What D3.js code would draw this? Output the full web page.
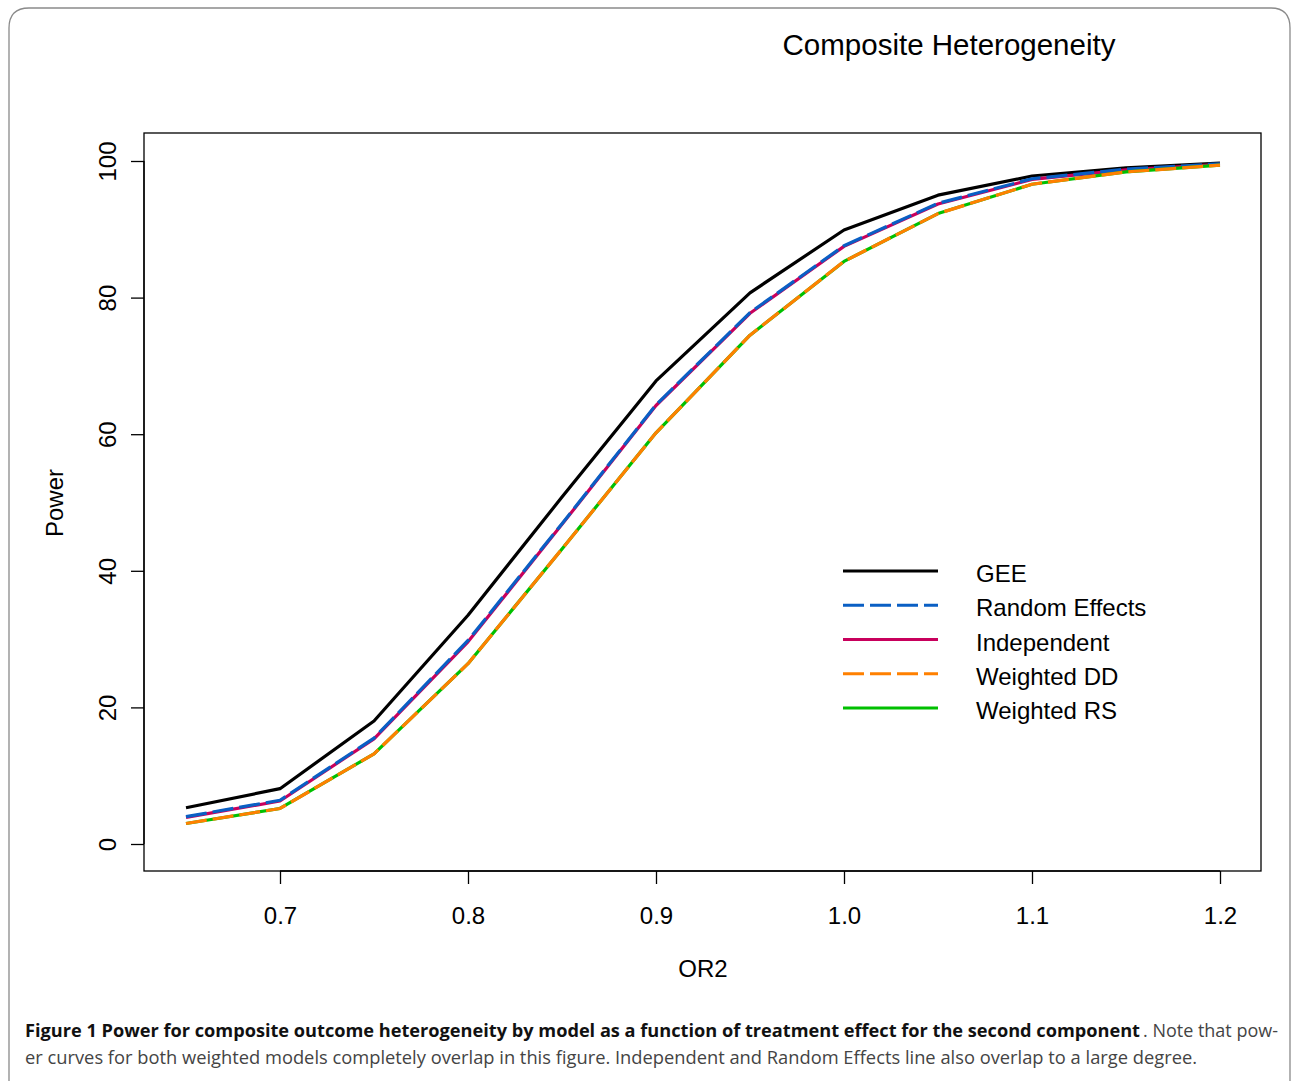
<!DOCTYPE html>
<html><head><meta charset="utf-8">
<script src="https://cdn.jsdelivr.net/npm/d3@7"></script>
<style>body{margin:0;background:#fff}svg{display:block}</style>
</head><body>
<script>
const or2 = [0.65,0.70,0.75,0.80,0.85,0.90,0.95,1.00,1.05,1.10,1.15,1.20];
const gee          = [5.3, 8.1, 18.0, 33.5, 50.8, 67.8, 80.7, 89.9, 95.0, 97.8, 99.0, 99.7];
const randomEff    = [4.0, 6.4, 15.5, 29.8, 46.9, 64.3, 77.8, 87.6, 93.8, 97.4, 98.8, 99.6];
const independent  = [3.9, 6.3, 15.4, 29.6, 46.8, 64.2, 77.7, 87.5, 93.7, 97.3, 98.7, 99.5];
const weightedDD   = [3.0, 5.2, 13.2, 26.4, 43.2, 60.2, 74.5, 85.3, 92.3, 96.6, 98.4, 99.4];
const weightedRS   = [3.0, 5.2, 13.2, 26.4, 43.2, 60.2, 74.5, 85.3, 92.3, 96.6, 98.4, 99.4];
const xTicks = [0.7,0.8,0.9,1.0,1.1,1.2];
const yTicks = [0,20,40,60,80,100];
const seriesNames = ["GEE","Random Effects","Independent","Weighted DD","Weighted RS"];
const seriesColors = ["#000000","#0a5fc4","#c8005c","#ff8000","#00c000"];
const seriesDash = [null,"21,6",null,"21,6",null];
const seriesData = [gee, randomEff, independent, weightedDD, weightedRS];
const drawOrder = [0,2,1,4,3];

const W=1292,H=1081;
const svg=d3.select("body").append("svg").attr("width",W).attr("height",H);
const font="Liberation Sans, Arial, Helvetica, sans-serif";

// frame
svg.append("path")
  .attr("d",`M9,1090 L9,28 Q9,8 29,8 L1271,8 Q1290,8 1290,28 L1290,1090`)
  .attr("fill","none").attr("stroke","#8a8a8a").attr("stroke-width",1.3);

const x=d3.scaleLinear().domain([0.7,1.2]).range([280,1220]);
const y=d3.scaleLinear().domain([0,100]).range([844,161]);
const box={x0:144,x1:1261,y0:133,y1:871};

svg.append("rect").attr("x",box.x0).attr("y",box.y0).attr("width",box.x1-box.x0).attr("height",box.y1-box.y0)
  .attr("fill","none").attr("stroke","#000").attr("stroke-width",1.3);

// axes
const xAxis=d3.axisBottom(x).tickValues(xTicks).tickFormat(d3.format(".1f")).tickSizeOuter(0).tickSize(13).tickPadding(20);
const gx=svg.append("g").attr("transform",`translate(0,${box.y1})`).call(xAxis);
gx.select(".domain").attr("d",`M${x(0.7)},0H${x(1.2)}`).attr("stroke-width",1.3);
gx.selectAll(".tick line").attr("stroke-width",1.3);
gx.selectAll("text").attr("font-family",font).attr("font-size",24).attr("fill","#000").attr("dy","0.35em").attr("y",45);

const yAxis=d3.axisLeft(y).tickValues(yTicks).tickSizeOuter(0).tickSize(13);
const gy=svg.append("g").attr("transform",`translate(${box.x0},0)`).call(yAxis);
gy.select(".domain").attr("d",`M0,${y(0)}V${y(100)}`).attr("stroke-width",1.3);
gy.selectAll(".tick line").attr("stroke-width",1.3);
gy.selectAll("text").attr("font-family",font).attr("font-size",24).attr("fill","#000")
  .attr("x",0).attr("dy",0).attr("text-anchor","middle")
  .attr("transform","translate(-28,0) rotate(-90)");

// lines
const line=d3.line().x((d,i)=>x(or2[i])).y(d=>y(d));
drawOrder.forEach(k=>{
  svg.append("path").datum(seriesData[k]).attr("d",line)
    .attr("fill","none").attr("stroke",seriesColors[k]).attr("stroke-width",3.2)
    .attr("stroke-linejoin","round")
    .attr("stroke-dasharray",seriesDash[k]);
});

// legend
const legY=d3.scaleLinear().domain([0,4]).range([571,708]);
seriesNames.forEach((n,k)=>{
  svg.append("line").attr("x1",843).attr("x2",938).attr("y1",legY(k)).attr("y2",legY(k))
    .attr("stroke",seriesColors[k]).attr("stroke-width",3.2).attr("stroke-dasharray",seriesDash[k]);
  svg.append("text").attr("x",976).attr("y",legY(k)+11).text(n)
    .attr("font-family",font).attr("font-size",24).attr("fill","#000");
});

// titles
svg.append("text").attr("x",949).attr("y",55).attr("text-anchor","middle").text("Composite Heterogeneity")
  .attr("font-family",font).attr("font-size",29.5);
svg.append("text").attr("x",703).attr("y",977).attr("text-anchor","middle").text("OR2")
  .attr("font-family",font).attr("font-size",24);
svg.append("text").attr("transform","translate(63,503) rotate(-90)").attr("text-anchor","middle").text("Power")
  .attr("font-family",font).attr("font-size",24);

// caption
const cf="Open Sans, Noto Sans, sans-serif";
svg.append("text").attr("x",25).attr("y",1037).text("Figure 1 Power for composite outcome heterogeneity by model as a function of treatment effect for the second component")
  .attr("font-family",cf).attr("font-weight","bold").attr("font-size",18).attr("fill","#111")
  .attr("textLength",1115).attr("lengthAdjust","spacingAndGlyphs");
svg.append("text").attr("x",1143).attr("y",1037).text(". Note that pow-")
  .attr("font-family",cf).attr("font-size",18).attr("fill","#444")
  .attr("textLength",135).attr("lengthAdjust","spacingAndGlyphs");
svg.append("text").attr("x",25).attr("y",1064).text("er curves for both weighted models completely overlap in this figure. Independent and Random Effects line also overlap to a large degree.")
  .attr("font-family",cf).attr("font-size",18).attr("fill","#444")
  .attr("textLength",1172).attr("lengthAdjust","spacingAndGlyphs");
</script>
</body></html>
